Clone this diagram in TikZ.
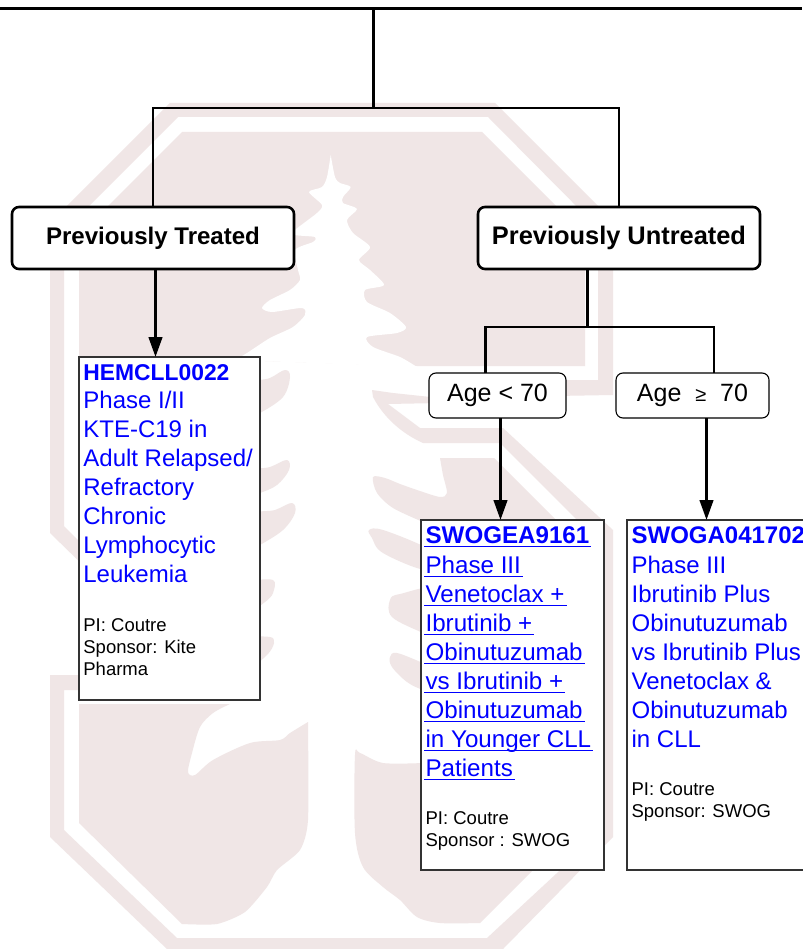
\documentclass[tikz,border=0pt]{standalone}
\usepackage{fontspec}
\setmainfont{Liberation Sans}
\usetikzlibrary{arrows.meta}
\definecolor{wmpink}{HTML}{F0E6E6}
\definecolor{linkblue}{HTML}{0000FF}
\definecolor{boxedge}{HTML}{333333}
\newsavebox{\ulinebox}
\newcommand{\ulined}[1]{\sbox{\ulinebox}{#1}\leavevmode\rlap{\kern-1.5pt\rule[-4.4pt]{\dimexpr\wd\ulinebox+3.5pt\relax}{1.5pt}}\usebox{\ulinebox}}
\newcommand{\smallfont}{\fontsize{18.5}{22.4}\selectfont\color{black}}
% width, height, left pad, first-line strut, blue size, blue lines, gap, black lines
\newcommand{\trialtext}[8]{\parbox[t][#2pt][t]{#1pt}{\leftskip=#3pt\relax
  {\fontsize{#5}{29}\selectfont\color{linkblue}\rule{0pt}{#4pt}#6\par}\vspace{#7pt}{\smallfont #8\par}}}
\tikzset{
  x=1pt,y=-1pt,
  wm/.style={fill=wmpink,draw=none},
  wire/.style={draw=black,line width=2.9pt},
  tipped/.style={draw=black,line width=2.8pt,-{Triangle[length=20pt,width=13.5pt]},shorten >=0pt},
  groupbox/.style={draw=black,fill=white,line width=2.6pt,rounded corners=7pt,inner sep=0pt,outer sep=0pt,
    minimum width=282pt,minimum height=62pt,font=\bfseries},
  agebox/.style={draw=black,fill=white,line width=1.1pt,rounded corners=7pt,inner sep=0pt,outer sep=0pt,
    minimum height=45pt,font=\fontsize{25}{29}\selectfont},
  trialbox/.style={draw=boxedge,fill=white,line width=1.1pt,inner sep=0pt,outer sep=0pt,anchor=north west}
}
\begin{document}
\begin{tikzpicture}
\useasboundingbox (0,0) rectangle (802,949);
\fill[white] (0,0) rectangle (802,949);
% watermark: block S outline, upper arm
\fill[wm] (50,223) -- (170,103) -- (495,103) -- (613,221) -- (613,395) -- (440,398) -- (440,380)
  -- (598,380) -- (598,228) -- (488,117) -- (178,117) -- (64,231) -- (64,526) -- (90,552) -- (90,572) -- (50,533) -- cycle;
% watermark: block S outline, lower arm
\fill[wm] (372,390) -- (393,393) -- (440,398) -- (440,403) -- (388,404) -- (420,428) -- (503,428) -- (613,530)
  -- (613,837) -- (503,949) -- (167,949) -- (50,837) -- (50,675) -- (100,675) -- (100,690) -- (64,690) -- (64,830)
  -- (177,938) -- (487,938) -- (598,835) -- (598,541) -- (500,443) -- (423,443)
  .. controls (405,435) and (385,420) .. (373,397) -- cycle;
% watermark: upper field
\fill[wm] (79,235) -- (182,132) -- (482,132) -- (585,235) -- (585,366) -- (417,366) -- (235,360) -- (235,400) -- (79,400) -- cycle;
% watermark: tree
\fill[white] plot[smooth,tension=.45] coordinates {(330.7,155) (335,177) (340,183) (350.7,187) (343,197) (343,203) (357,209) (347,220) (353,233) (370,247) (359,260) (370,270) (384,285) (365,290) (367,302) (390,313) (406,327) (397,333) (367,337) (373,347) (400,357) (417,367)}
  -- plot[smooth,tension=.45] coordinates {(235,360) (247,353) (270,338) (293,327) (305,315) (302,308) (272,312) (262,308) (270,300) (290,290) (300,280) (298,270) (295,250) (313,242) (315,237) (295,235) (295,230) (317,213) (322,205) (309,192) (322,187) (327,177) (330.7,155)} -- cycle;
% watermark: flares right of the left box
\fill[wm] plot[smooth cycle,tension=.6] coordinates {(250,385) (270,378) (285,370) (290,377) (283,397) (260,413) (250,416)};
\fill[wm] plot[smooth cycle,tension=.6] coordinates {(250,472) (270,467) (287,460) (289,470) (277,485) (260,493) (250,496)};
\fill[wm] plot[smooth cycle,tension=.6] coordinates {(250,516) (275,510) (292,503) (295,513) (283,530) (260,545) (250,550)};
\fill[wm] plot[smooth cycle,tension=.6] coordinates {(250,584) (273,580) (273,593) (265,602) (250,610)};
\fill[wm] plot[smooth cycle,tension=.6] coordinates {(250,640) (270,637) (274,643) (267,655) (250,666)};
% watermark: flares left of the right box
\fill[wm] plot[smooth,tension=.5] coordinates {(423,522) (393,508) (377,493) (373,477) (385,478) (400,484) (420,491) (440,497) (447,493) (443,475) (440,458)} -- (494,458) -- (585,549) -- (585,570) -- (430,570) -- cycle;
\fill[wm] plot[smooth cycle,tension=.6] coordinates {(369,530) (383,530) (425,547) (440,560) (425,570) (383,553) (372,538)};
\fill[wm] plot[smooth cycle,tension=.6] coordinates {(440,590) (400,594) (390,600) (392,617) (423,633) (440,640)};
\fill[wm] plot[smooth cycle,tension=.6] coordinates {(440,670) (423,663) (397,653) (390,657) (392,667) (407,682) (423,690) (440,695)};
% watermark: lower fields
\fill[wm] plot[smooth,tension=.5] coordinates {(423,763) (383,763) (360,753) (355,755) (355,833) (363,867) (383,887) (400,900) (417,917) (440,923) (480,923)} -- (585,818) -- (585,763) -- cycle;
\fill[wm] (79,704) -- plot[smooth,tension=.5] coordinates {(230,704) (213,713) (200,727) (192,753) (188,772) (195,775) (213,760) (250,743) (280,740) (290,733) (308,722)} -- plot[smooth,tension=.4] coordinates {(308,722) (308,820) (300,850) (277,870) (267,887) (245,912) (217,924) (182,924)} -- (79,823) -- cycle;

% diagram
\coordinate (rootl) at (0,9);
\coordinate (rootr) at (802,9);
\coordinate (rootc) at (373.5,9);
\coordinate (splitA) at (373.5,108);
\coordinate (splitB) at (587.5,327);
\coordinate (splitL) at (485.5,327);
\coordinate (splitR) at (714,327);
\coordinate (hemtip) at (155.5,357);
\coordinate (eatip) at (500.5,520);
\coordinate (altip) at (706.5,520);

\node[groupbox] (treated) at (153,238) {\fontsize{24.05}{29}\selectfont\raisebox{2pt}{Previously Treated}};
\node[groupbox] (untreated) at (619,238) {\fontsize{25.4}{29}\selectfont\raisebox{2pt}{Previously Untreated}};
\node[agebox,minimum width=137pt] (young) at (497.5,395.5) {Age < 70};
\node[agebox,minimum width=153pt] (old) at (692.5,395.5) {Age\ \ {\fontsize{20}{20}\selectfont ≥}\ \ 70};

\node[trialbox] (hem) at (79,357) {\trialtext{181}{343}{4.4}{22}{24}{\raisebox{-1pt}{\fontsize{22.85}{29}\selectfont\textbf{HEMCLL0022}}\\Phase I/II\\KTE-C19 in\\Adult Relapsed/\\Refractory\\Chronic\\Lymphocytic\\Leukemia}{26.6}{PI: Coutre\\Sponsor: Kite\\Pharma}};
\node[trialbox] (ea) at (421,520) {\trialtext{183}{350}{4.6}{24}{24.15}{\raisebox{1pt}{\ulined{\textbf{SWOGEA9161}}}\\\ulined{Phase III}\\\ulined{Venetoclax +}\\\ulined{Ibrutinib +}\\\ulined{Obinutuzumab}\\\ulined{vs Ibrutinib +}\\\ulined{Obinutuzumab}\\\ulined{in Younger CLL}\\\ulined{Patients}}{26}{PI: Coutre\\Sponsor : SWOG}};
\node[trialbox] (al) at (627,520) {\trialtext{190}{350}{4.6}{24}{24}{\raisebox{1pt}{\textbf{SWOGA041702}}\\Phase III\\Ibrutinib Plus\\Obinutuzumab\\vs Ibrutinib Plus\\Venetoclax \&\\Obinutuzumab\\in CLL}{25.6}{PI: Coutre\\Sponsor: SWOG}};

\draw[wire,line width=3pt] (rootl) -- (rootr);
\draw[wire] (rootc) -- (splitA);
\draw[wire] (treated.north) |- (splitA) -| (untreated.north);
\draw[tipped] (treated.south -| hemtip) -- (hemtip);
\draw[wire] (untreated.south -| splitB) -- (splitB);
\draw[wire] (young.north -| splitL) -- (splitL) -- (splitR) -- (old.north -| splitR);
\draw[tipped] (young.south -| eatip) -- (eatip);
\draw[tipped] (old.south -| altip) -- (altip);
\end{tikzpicture}
\end{document}
